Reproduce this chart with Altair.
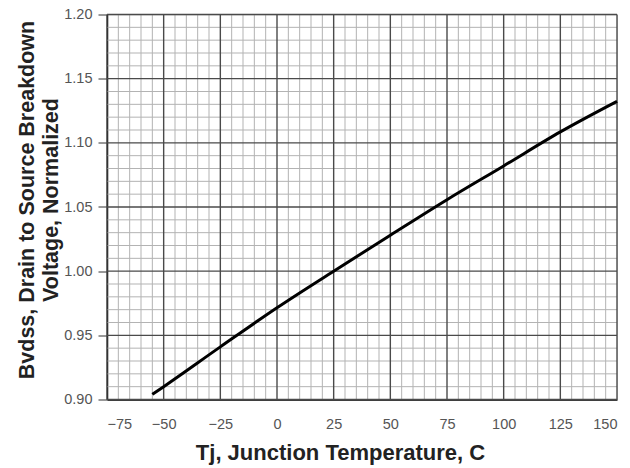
import altair as alt
import pandas as pd

# Curve
temp_c = [-55, -50, -25, 0, 25, 50, 75, 100, 125, 150]
bvdss_norm = [0.904, 0.910, 0.941, 0.9715, 1.000, 1.028, 1.0557, 1.082, 1.1085, 1.1323]

# Axis ticks / grid positions
x_major = [-75, -50, -25, 0, 25, 50, 75, 100, 125, 150]
y_major = [0.90, 0.95, 1.00, 1.05, 1.10, 1.15, 1.20]
x_minor = [v for v in range(-75, 151, 5) if v % 25 != 0]
y_minor = [round(0.90 + i * 0.01, 2) for i in range(31) if i % 5 != 0]

FONT = "Liberation Sans"

xs = alt.Scale(domain=[-75, 150], nice=False, zero=False)
ys = alt.Scale(domain=[0.90, 1.20], nice=False, zero=False)

ax_x = alt.Axis(
    values=x_major,
    format="d",
    grid=False,
    ticks=False,
    tickSize=0,
    labelPadding=18,
    labelFontSize=14.5,
    labelColor="#555555",
    labelFont=FONT,
    domainColor="black",
    domainWidth=1.5,
    title="Tj, Junction Temperature, C",
    titleFont=FONT,
    titleFontSize=22,
    titleFontWeight="bold",
    titleColor="#222222",
    titleX=233,
    titleY=60,
    titleBaseline="alphabetic",
)

ax_y = alt.Axis(
    values=y_major,
    format=".2f",
    grid=False,
    ticks=True,
    tickSize=9,
    tickColor="#333333",
    labelPadding=6,
    labelFontSize=14.5,
    labelColor="#555555",
    labelFont=FONT,
    domainColor="black",
    domainWidth=1.5,
    title=["Bvdss, Drain to Source Breakdown", "Voltage, Normalized"],
    titleFont=FONT,
    titleFontSize=21.5,
    titleFontWeight="bold",
    titleColor="#222222",
    titleLineHeight=24,
    titleX=-80,
    titleY=185,
    titleBaseline="middle",
)

curve = pd.DataFrame({"t": temp_c, "v": bvdss_norm})

minor_v = alt.Chart(pd.DataFrame({"t": x_minor})).mark_rule(
    color="#b3b3b3", strokeWidth=1
).encode(x=alt.X("t:Q", scale=xs, axis=ax_x))

minor_h = alt.Chart(pd.DataFrame({"v": y_minor})).mark_rule(
    color="#b3b3b3", strokeWidth=1
).encode(y=alt.Y("v:Q", scale=ys, axis=ax_y))

major_v = alt.Chart(pd.DataFrame({"t": x_major})).mark_rule(
    color="#4a4a4a", strokeWidth=1.4
).encode(x=alt.X("t:Q", scale=xs, axis=ax_x))

major_h = alt.Chart(pd.DataFrame({"v": y_major})).mark_rule(
    color="#4a4a4a", strokeWidth=1.4
).encode(y=alt.Y("v:Q", scale=ys, axis=ax_y))

line = alt.Chart(curve).mark_line(
    color="black", strokeWidth=3, interpolate="monotone"
).encode(
    x=alt.X("t:Q", scale=xs, axis=ax_x),
    y=alt.Y("v:Q", scale=ys, axis=ax_y),
)

chart = (
    alt.layer(minor_v, minor_h, major_v, major_h, line)
    .properties(
        width=510,
        height=385,
        title=alt.Title(
            "Temperature",
            font=FONT,
            fontSize=29,
            fontWeight="bold",
            color="#222222",
            baseline="alphabetic",
            offset=10,
            dx=-11,
        ),
        autosize=alt.AutoSizeParams(type="none"),
        padding={"left": 99, "top": 6.5, "right": 5, "bottom": 70},
    )
    .configure_view(strokeWidth=0)
    .configure(background="white")
)

chart.save("out.html", embed_options={"renderer": "svg", "actions": False})
